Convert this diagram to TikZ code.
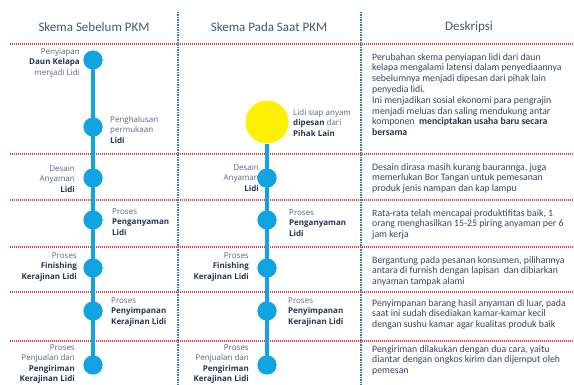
\documentclass[tikz,border=0pt]{standalone}
\usepackage{fontspec}
\setmainfont{Carlito}
\newfontfamily\lblfont{Open Sans}
\definecolor{cblue}{HTML}{12A3E3}
\definecolor{cred}{HTML}{E5404A}
\definecolor{vblue}{HTML}{2F7DC0}
\definecolor{ctext}{HTML}{3A4463}
\definecolor{cdark}{HTML}{2A3352}
\definecolor{clight}{HTML}{5C6380}
\definecolor{chead}{HTML}{4B5773}
\definecolor{cyel}{HTML}{FFEF00}
\newcommand\bld[1]{\textcolor{cdark}{\textbf{#1}}}
\begin{document}
\begin{tikzpicture}[x=1pt,y=-1pt,
  dotnode/.style={circle, fill=cblue, minimum size=19pt, inner sep=0pt},
  yelnode/.style={circle, fill=cyel, minimum size=43pt, inner sep=0pt},
  conn/.style={cblue, line width=3.5pt},
  lblL/.style={font=\lblfont\fontsize{8}{10.4}\selectfont, text=clight, align=left, anchor=west, inner sep=0pt},
  lblR/.style={font=\lblfont\fontsize{8}{10.4}\selectfont, text=clight, align=right, anchor=east, inner sep=0pt},
  desc/.style={font=\fontsize{9.8}{10.8}\selectfont, text=ctext, align=left, anchor=north west, inner sep=0pt},
  head/.style={font=\fontsize{13}{15}\selectfont, text=chead, inner sep=0pt},
  hsep/.style={cred, line width=1.2pt, dash pattern=on 1pt off 1pt},
  vsep/.style={vblue, line width=1.3pt, dash pattern=on 1.3pt off 1.2pt}
]
\useasboundingbox (0,0) rectangle (574,385);
\fill[white] (0,0) rectangle (574,385);

% separators
\coordinate (h0a) at (10,44);   \coordinate (h0b) at (574,44);
\coordinate (h1a) at (10,154);  \coordinate (h1b) at (574,154);
\coordinate (h2a) at (10,200);  \coordinate (h2b) at (574,200);
\coordinate (h3a) at (10,247);  \coordinate (h3b) at (574,247);
\coordinate (h4a) at (10,292);  \coordinate (h4b) at (574,292);
\coordinate (h5a) at (10,341);  \coordinate (h5b) at (574,341);
\foreach \i in {0,...,5} { \draw[hsep] (h\i a) -- (h\i b); }
\coordinate (v1a) at (178,12); \coordinate (v1b) at (178,385);
\coordinate (v2a) at (361,12); \coordinate (v2b) at (361,385);
\draw[vsep] (v1a) -- (v1b);
\draw[vsep] (v2a) -- (v2b);

% headers
\node[head] (hA) at (94,27) {Skema Sebelum PKM};
\node[head] (hB) at (269,27) {Skema Pada Saat PKM};
\node[head] (hC) at (469,27) {Deskripsi};

% column 1
\node[dotnode] (a1) at (93,60) {};
\node[dotnode] (a2) at (93,127) {};
\node[dotnode] (a3) at (93,178) {};
\node[dotnode] (a4) at (93,220) {};
\node[dotnode] (a5) at (93,268) {};
\node[dotnode] (a6) at (93,311) {};
\node[dotnode] (a7) at (93,365) {};
\draw[conn] (a1.center) -- (a2.center) -- (a3.center) -- (a4.center) -- (a5.center) -- (a6.center) -- (a7.center);
\foreach \n in {a1,a2,a3,a4,a5,a6,a7} { \fill[cblue] (\n) circle (9.5pt); }

\node[lblR] (la1) at (80,63) {Penyiapan\\\bld{Daun Kelapa}\\menjadi Lidi};
\node[lblL] (la2) at (110,130) {Penghalusan\\permukaan\\\bld{Lidi}};
\node[lblR] (la3) at (75,179) {Desain\\Anyaman\\\bld{Lidi}};
\node[lblL] (la4) at (112,222) {Proses\\\bld{Penganyaman}\\\bld{Lidi}};
\node[lblR] (la5) at (77,267) {Proses\\\bld{Finishing}\\\bld{Kerajinan Lidi}};
\node[lblL] (la6) at (111,312) {Proses\\\bld{Penyimpanan}\\\bld{Kerajinan Lidi}};
\node[lblR] (la7) at (75,364) {Proses\\Penjualan dan\\\bld{Pengiriman}\\\bld{Kerajinan Lidi}};

% column 2
\node[lblR] (lb2) at (259,178) {Desain\\Anyaman\\\bld{Lidi}};
\node[yelnode] (b1) at (267,122) {};
\node[dotnode] (b2) at (267,178) {};
\node[dotnode] (b3) at (267,220) {};
\node[dotnode] (b4) at (267,268) {};
\node[dotnode] (b5) at (267,311) {};
\node[dotnode] (b6) at (267,365) {};
\draw[conn] (b1.south) -- (b2.center) -- (b3.center) -- (b4.center) -- (b5.center) -- (b6.center);
\foreach \n in {b2,b3,b4,b5,b6} { \fill[cblue] (\n) circle (9.5pt); }

\node[lblL] (lb1) at (293,123) {Lidi siap anyam\\\bld{dipesan} dari\\\bld{Pihak Lain}};
\node[lblL] (lb3) at (289,223) {Proses\\\bld{Penganyaman}\\\bld{Lidi}};
\node[lblR] (lb4) at (249,267) {Proses\\\bld{Finishing}\\\bld{Kerajinan Lidi}};
\node[lblL] (lb5) at (288,312) {Proses\\\bld{Penyimpanan}\\\bld{Kerajinan Lidi}};
\node[lblR] (lb6) at (249,364) {Proses\\Penjualan dan\\\bld{Pengiriman}\\\bld{Kerajinan Lidi}};

% descriptions
\node[desc] (d1) at (372,53) {Perubahan skema penyiapan lidi dari daun\\kelapa mengalami latensi dalam penyediaannya\\sebelumnya menjadi dipesan dari pihak lain\\penyedia lidi.\\Ini menjadikan sosial ekonomi para pengrajin\\menjadi meluas dan saling mendukung antar\\komponen~ \bld{menciptakan usaha baru secara}\\\bld{bersama}};
\node[desc] (d2) at (372,163) {Desain dirasa masih kurang baurannga, juga\\memerlukan Bor Tangan untuk pemesanan\\produk jenis nampan dan kap lampu};
\node[desc] (d3) at (372,209) {Rata-rata telah mencapai produktifitas baik, 1\\orang menghasilkan 15-25 piring anyaman per 6\\jam kerja};
\node[desc] (d4) at (372,256) {Bergantung pada pesanan konsumen, pilihannya\\antara di furnish dengan lapisan~ dan dibiarkan\\anyaman tampak alami};
\node[desc] (d5) at (372,299) {Penyimpanan barang hasil anyaman di luar, pada\\saat ini sudah disediakan kamar-kamar kecil\\dengan sushu kamar agar kualitas produk baik};
\node[desc] (d6) at (372,345) {Pengiriman dilakukan dengan dua cara, yaitu\\diantar dengan ongkos kirim dan dijemput oleh\\pemesan};
\end{tikzpicture}
\end{document}
